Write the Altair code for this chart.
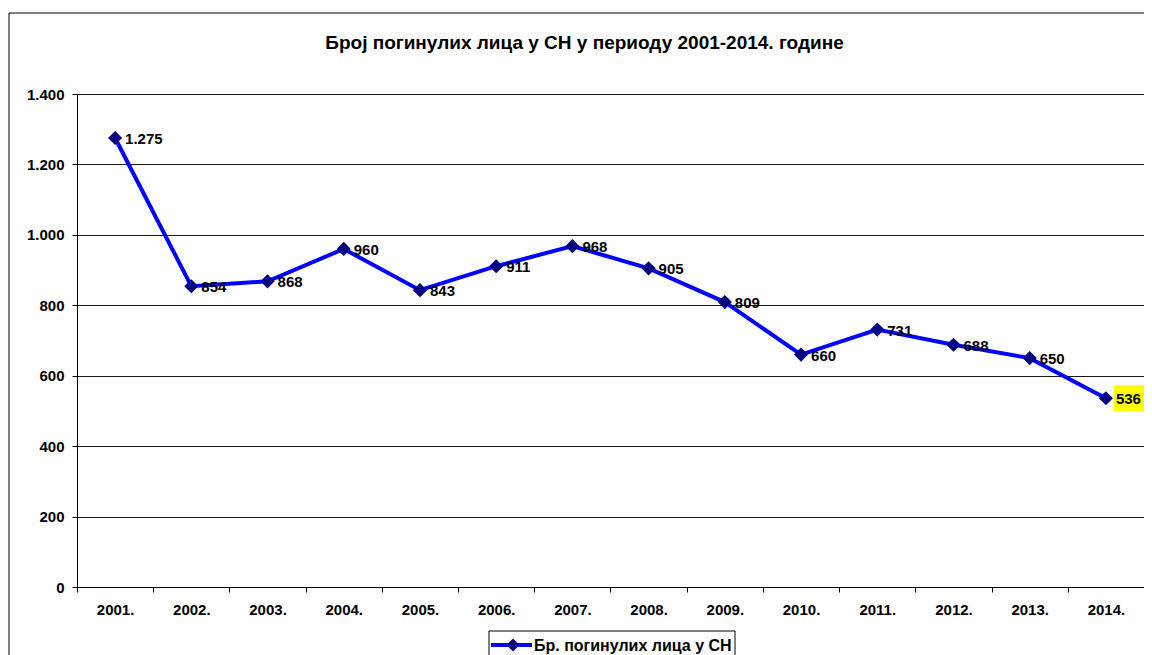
import altair as alt
import pandas as pd

years = ["2001.", "2002.", "2003.", "2004.", "2005.", "2006.", "2007.",
         "2008.", "2009.", "2010.", "2011.", "2012.", "2013.", "2014."]
deaths = [1275, 854, 868, 960, 843, 911, 968, 905, 809, 660, 731, 688, 650, 536]
series_name = "Бр. погинулих лица у СН"
title_text = "Број погинулих лица у СН у периоду 2001-2014. године"
y_ticks = [0, 200, 400, 600, 800, 1000, 1200, 1400]

df = pd.DataFrame({"year": years, "value": deaths})

FONT = "Liberation Sans"
W, H = 1067, 493

x_enc = alt.X("year:N", sort=years,
              scale=alt.Scale(paddingInner=0, paddingOuter=0),
              axis=alt.Axis(title=None, labelAngle=0, tickBand="extent",
                            tickSize=5, labelPadding=10, labelFontSize=15,
                            labelFont=FONT, labelFontWeight="bold",
                            labelColor="black", domainColor="black",
                            tickColor="black", grid=False))
y_enc = alt.Y("value:Q",
              scale=alt.Scale(domain=[0, 1400], nice=False),
              axis=alt.Axis(title=None, values=y_ticks, tickSize=5,
                            labelPadding=8, labelFontSize=15, labelFont=FONT,
                            labelFontWeight="bold", labelColor="black",
                            domainColor="black", tickColor="black",
                            grid=True, gridColor="#1a1a1a", gridWidth=1,
                            labelExpr="replace(format(datum.value, ','), ',', '.')"))

base = alt.Chart(df)

line = base.mark_line(color="#0000FF", strokeWidth=4).encode(x=x_enc, y=y_enc)
pts = base.mark_point(shape="diamond", filled=True, size=200, color="#000080",
                      opacity=1).encode(x=x_enc, y=y_enc)

box_shape = "M-1.23,-1L1.23,-1L1.23,1L-1.23,1Z"
hl = base.transform_filter(alt.datum.year == years[-1]).mark_point(
    shape=box_shape, filled=True, size=676, color="#FFFF00", opacity=1,
    xOffset=24).encode(x=x_enc, y=y_enc)

labels = base.transform_calculate(
    lab="replace(format(datum.value, ','), ',', '.')"
).mark_text(align="left", baseline="middle", dx=10, dy=1, fontSize=15,
            font=FONT, fontWeight="bold", color="black").encode(
    x=x_enc, y=y_enc, text="lab:N")

# outer chart border
border = alt.Chart(pd.DataFrame({"a": [0]})).mark_rect(
    fill=None, stroke="black", strokeWidth=1).encode(
    x=alt.value(-68), x2=alt.value(1200), y=alt.value(-81), y2=alt.value(700))

# legend (manual)
leg_df = pd.DataFrame({"name": [series_name]})
leg_box = alt.Chart(leg_df).mark_rect(fill="white", stroke="black", strokeWidth=1).encode(
    x=alt.value(412), x2=alt.value(658), y=alt.value(537), y2=alt.value(600))
leg_line = alt.Chart(leg_df).mark_rule(color="#0000FF", strokeWidth=4).encode(
    x=alt.value(414), x2=alt.value(455), y=alt.value(551))
leg_pt = alt.Chart(leg_df).mark_point(shape="diamond", filled=True, size=170,
                                      color="#000080", opacity=1).encode(
    x=alt.value(436), y=alt.value(551))
leg_txt = alt.Chart(leg_df).mark_text(align="left", baseline="middle", fontSize=16,
                                      font=FONT, fontWeight="bold", color="black").encode(
    x=alt.value(457), y=alt.value(552), text="name:N")

chart = alt.layer(border, line, pts, hl, labels, leg_box, leg_line, leg_pt, leg_txt).properties(
    width=W, height=H,
    title=alt.TitleParams(title_text, fontSize=19, font=FONT, fontWeight="bold",
                          color="black", anchor="middle", frame="group", dx=-26,
                          offset=30, dy=70),
    autosize=alt.AutoSizeParams(type="none"),
    padding={"left": 69, "top": 86, "right": 0, "bottom": 68},
).configure_view(stroke="#808080", strokeWidth=1).configure(background="white")

chart.save("out.html", embed_options={"renderer": "svg", "actions": False})
